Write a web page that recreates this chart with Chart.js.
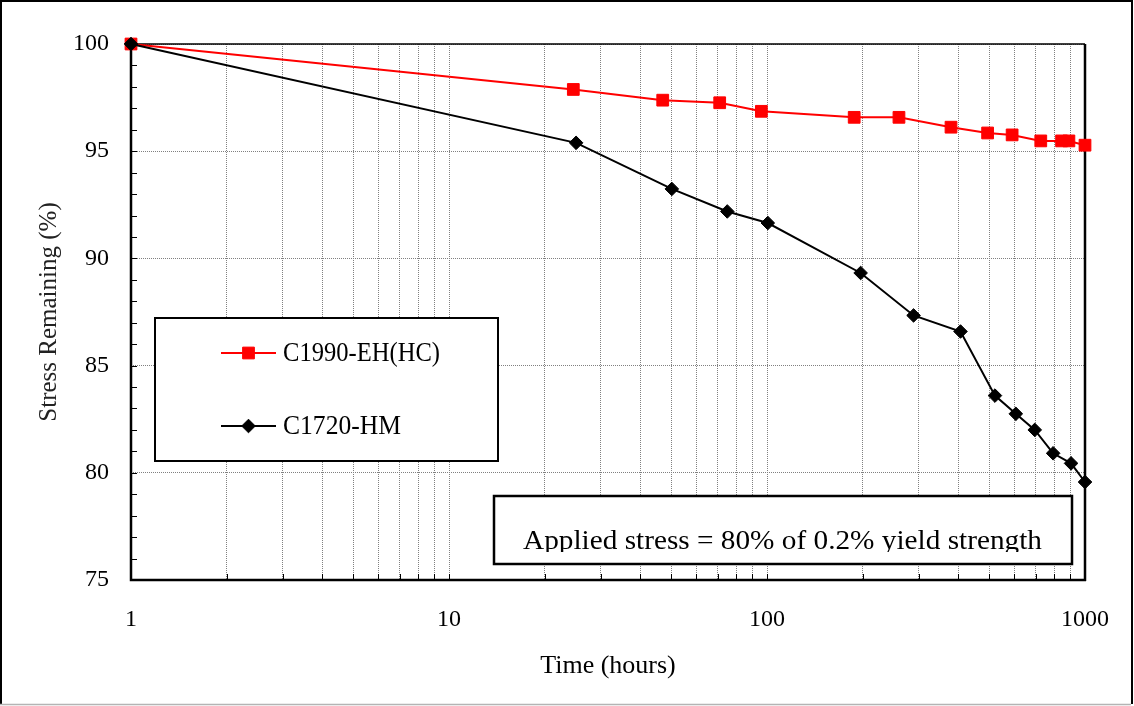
<!DOCTYPE html>
<html><head><meta charset="utf-8">
<script src="https://cdn.jsdelivr.net/npm/chart.js@4.4.1/dist/chart.umd.min.js"></script>
<style>
html,body{margin:0;padding:0;background:#fff;overflow:hidden}
#wrap{position:relative;width:1134px;height:706px}
canvas{display:block}
</style></head><body>
<div id="wrap"><canvas id="c" width="1134" height="706"></canvas></div>
<script>
// ---- data ----
const seriesNames = ['C1990-EH(HC)', 'C1720-HM'];
const hoursC1990  = [1, 24.6, 47, 71, 96, 188, 260, 379, 494, 590, 726, 844, 890, 1000];
const stressC1990 = [100, 97.88, 97.38, 97.26, 96.86, 96.58, 96.58, 96.12, 95.85, 95.76, 95.48, 95.48, 95.48, 95.28];
const hoursC1720  = [1, 25.1, 50.2, 75, 100.6, 197, 289, 406, 521, 606, 695, 794, 904, 1000];
const stressC1720 = [100, 95.39, 93.24, 92.19, 91.65, 89.32, 87.34, 86.59, 83.60, 82.75, 82.00, 80.91, 80.44, 79.57];
const xMajorTicks = [1, 10, 100, 1000];
const xGridTicks  = [1,2,3,4,5,6,7,8,9,10,20,30,40,50,60,70,80,90,100,200,300,400,500,600,700,800,900,1000];
const yMin = 75, yMax = 100, yLabelStep = 5, yMinorStep = 1;
const xTitle = 'Time (hours)';
const yTitle = 'Stress Remaining (%)';
const noteText = 'Applied stress = 80% of 0.2% yield strength';

const SERIF = '"Liberation Serif", "Times New Roman", Times, serif';
Chart.defaults.font.family = SERIF;
Chart.defaults.color = '#000';

function drawMarker(ctx, style, x, y, r, color) {
  ctx.save();
  ctx.fillStyle = color; ctx.strokeStyle = color; ctx.lineWidth = 1;
  ctx.beginPath();
  if (style === 'rect') {
    const s = Math.SQRT1_2 * r;
    ctx.rect(x - s, y - s, 2 * s, 2 * s);
  } else {
    ctx.moveTo(x - r, y); ctx.lineTo(x, y - r); ctx.lineTo(x + r, y); ctx.lineTo(x, y + r); ctx.closePath();
  }
  ctx.fill(); ctx.stroke();
  ctx.restore();
}

function fitText(ctx, text, x, y, size, width) {
  ctx.save();
  ctx.font = size + 'px ' + SERIF;
  const w = ctx.measureText(text).width;
  ctx.translate(x, y);
  ctx.scale(width / w, 1);
  ctx.fillText(text, 0, 0);
  ctx.restore();
}

const framePlugin = {
  id: 'frame',
  beforeDraw(chart) {
    const ctx = chart.ctx, W = chart.width, H = chart.height;
    ctx.save();
    ctx.fillStyle = '#fff'; ctx.fillRect(0, 0, W, H);
    ctx.strokeStyle = '#000'; ctx.lineWidth = 2;
    ctx.beginPath();
    ctx.moveTo(1, H - 2); ctx.lineTo(1, 1); ctx.lineTo(W - 2, 1); ctx.lineTo(W - 2, H - 2);
    ctx.stroke();
    ctx.strokeStyle = '#b4b4b4'; ctx.lineWidth = 1.5;
    ctx.beginPath(); ctx.moveTo(0, H - 1.5); ctx.lineTo(W - 3, H - 1.5); ctx.stroke();
    ctx.restore();
  },
  beforeDatasetsDraw(chart) {
    const {ctx, chartArea: {left, right, top, bottom}, scales: {x, y}} = chart;
    ctx.save();
    ctx.strokeStyle = '#000'; ctx.lineWidth = 1;
    y.ticks.forEach(t => {
      const py = Math.round(y.getPixelForValue(t.value)) + 0.5;
      ctx.beginPath(); ctx.moveTo(left, py); ctx.lineTo(left + 6, py); ctx.stroke();
    });
    x.ticks.forEach(t => {
      const px = Math.round(x.getPixelForValue(t.value)) + 0.5;
      ctx.beginPath(); ctx.moveTo(px, bottom); ctx.lineTo(px, bottom - 6); ctx.stroke();
    });
    ctx.lineWidth = 1.5;
    ctx.beginPath(); ctx.moveTo(left, top); ctx.lineTo(right, top); ctx.stroke();
    ctx.lineWidth = 2.5;
    ctx.beginPath(); ctx.moveTo(right, top); ctx.lineTo(right, bottom + 1); ctx.stroke();
    ctx.beginPath(); ctx.moveTo(left, top - 1); ctx.lineTo(left, bottom); ctx.lineTo(right + 1, bottom); ctx.stroke();
    ctx.restore();
  },
  afterDraw(chart) {
    const ctx = chart.ctx;
    ctx.save();
    // legend box
    ctx.fillStyle = '#fff'; ctx.fillRect(155, 318, 343, 143);
    ctx.strokeStyle = '#000'; ctx.lineWidth = 2; ctx.strokeRect(155, 318, 343, 143);
    const rows = [353, 426];
    const textW = [157, 118];
    chart.data.datasets.forEach((ds, i) => {
      const ly = rows[i];
      ctx.strokeStyle = ds.borderColor; ctx.lineWidth = 2;
      ctx.beginPath(); ctx.moveTo(221, ly); ctx.lineTo(276, ly); ctx.stroke();
      drawMarker(ctx, ds.pointStyle, 248.5, ly, ds.pointRadius, ds.backgroundColor);
      ctx.fillStyle = '#000';
      ctx.textBaseline = 'middle'; ctx.textAlign = 'left';
      fitText(ctx, ds.label, 283, ly + 1, 27, textW[i]);
    });
    // annotation box
    ctx.fillStyle = '#fff'; ctx.fillRect(494, 496, 578, 68);
    ctx.strokeStyle = '#000'; ctx.lineWidth = 2.5; ctx.strokeRect(494, 496, 578, 68);
    ctx.save();
    ctx.beginPath(); ctx.rect(496, 498, 574, 54); ctx.clip();
    ctx.fillStyle = '#000';
    ctx.textBaseline = 'alphabetic'; ctx.textAlign = 'left';
    fitText(ctx, noteText, 523, 549, 27, 519);
    ctx.restore();
    ctx.restore();
  }
};

new Chart(document.getElementById('c'), {
  type: 'line',
  data: {
    datasets: [
      { label: seriesNames[0], data: hoursC1990.map((h, i) => ({x: h, y: stressC1990[i]})),
        borderColor: '#ff0000', backgroundColor: '#ff0000', borderWidth: 2,
        pointStyle: 'rect', pointRadius: 8.3, pointBorderWidth: 1, pointHoverRadius: 8.3,
        tension: 0, clip: false, order: 1 },
      { label: seriesNames[1], data: hoursC1720.map((h, i) => ({x: h, y: stressC1720[i]})),
        borderColor: '#000000', backgroundColor: '#000000', borderWidth: 2,
        pointStyle: 'rectRot', pointRadius: 6.8, pointBorderWidth: 1, pointHoverRadius: 6.8,
        tension: 0, clip: false, order: 0 }
    ]
  },
  options: {
    responsive: false, animation: false, devicePixelRatio: 1,
    layout: { padding: { top: 44, right: 46, left: 0, bottom: 0 } },
    plugins: { legend: { display: false }, tooltip: { enabled: false } },
    events: [],
    scales: {
      x: {
        type: 'logarithmic', min: 1, max: 1000,
        afterBuildTicks: s => { s.ticks = xGridTicks.map(v => ({ value: v })); },
        afterFit: s => { s.height = 126; },
        ticks: { autoSkip: false, maxRotation: 0, minRotation: 0, padding: 25,
          font: { size: 24 }, color: '#000',
          callback: v => xMajorTicks.includes(v) ? String(v) : '' },
        grid: { color: '#808080', lineWidth: 1, drawTicks: false },
        border: { display: false, dash: [1, 1] },
        title: { display: true, text: xTitle, font: { size: 26 }, color: '#000',
          padding: { top: 0, bottom: 24 } }
      },
      y: {
        type: 'linear', min: yMin, max: yMax,
        afterFit: s => { s.width = 131; },
        ticks: { stepSize: yMinorStep, autoSkip: false, padding: 22,
          font: { size: 24 }, color: '#000',
          callback: v => (v % yLabelStep === 0) ? String(v) : '' },
        grid: { color: c => (c.tick && c.tick.value % yLabelStep === 0) ? '#808080' : 'rgba(0,0,0,0)',
          lineWidth: 1, drawTicks: false },
        border: { display: false, dash: [1, 1] },
        title: { display: true, text: yTitle, font: { size: 25 }, color: '#222',
          padding: { top: 34, bottom: 0 } }
      }
    }
  },
  plugins: [framePlugin]
});
</script>
</body></html>
